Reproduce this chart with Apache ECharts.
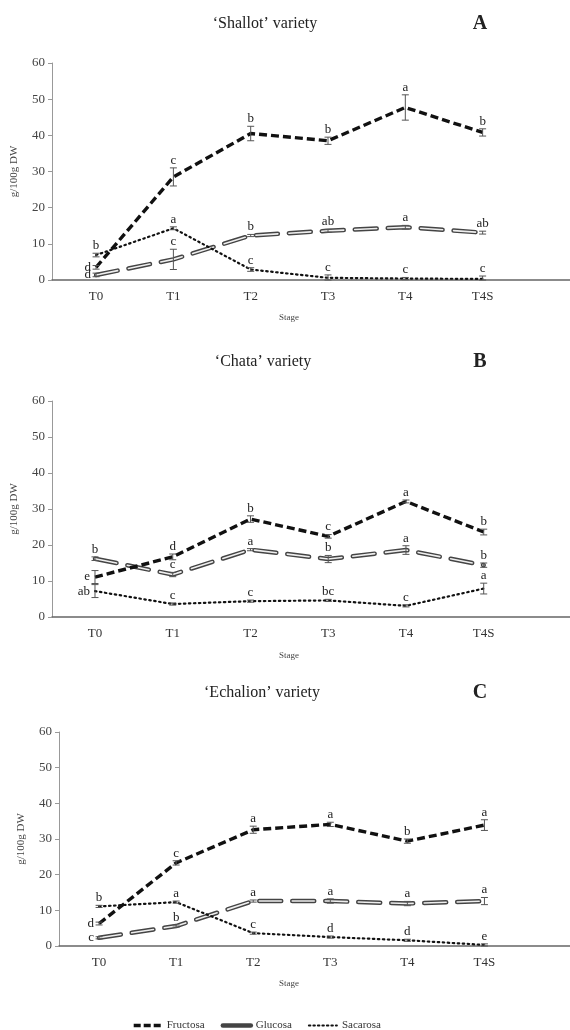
<!DOCTYPE html>
<html>
<head>
<meta charset="utf-8">
<script src="https://cdn.jsdelivr.net/npm/echarts@6/dist/echarts.min.js"></script>
<style>
html, body { margin: 0; padding: 0; background: #fff; }
#chart { width: 570px; height: 1030px; }
</style>
</head>
<body>
<div id="chart"></div>
<script>
const stages = ['T0', 'T1', 'T2', 'T3', 'T4', 'T4S'];
const yTicks = [0, 10, 20, 30, 40, 50, 60];

// 'Shallot' variety (A)
const shallotFru = [3.5, 28.5, 40.5, 38.5, 47.7, 40.8];
const shallotFruErr = [0.5, 2.5, 2.0, 1.0, 3.5, 1.0];
const shallotFruLetters = ['d', 'c', 'b', 'b', 'a', 'b'];
const shallotGlu = [1.4, 5.7, 12.3, 13.6, 14.6, 13.1];
const shallotGluErr = [0.5, 2.8, 0.3, 0.4, 0.5, 0.4];
const shallotGluLetters = ['d', 'c', 'b', 'ab', 'a', 'ab'];
const shallotSac = [6.9, 14.3, 2.9, 0.6, 0.4, 0.3];
const shallotSacErr = [0.5, 0.4, 0.5, 0.8, 0.3, 0.8];
const shallotSacLetters = ['b', 'a', 'c', 'c', 'c', 'c'];

// 'Chata' variety (B)
const chataFru = [11.1, 16.7, 27.2, 22.4, 32.1, 23.6];
const chataFruErr = [1.8, 0.8, 0.9, 0.5, 0.4, 0.8];
const chataFruLetters = ['e', 'd', 'b', 'c', 'a', 'b'];
const chataGlu = [16.2, 11.8, 18.7, 16.1, 18.6, 14.4];
const chataGluErr = [0.5, 0.6, 0.3, 1.0, 1.2, 0.6];
const chataGluLetters = ['b', 'c', 'a', 'b', 'a', 'b'];
const chataSac = [7.2, 3.6, 4.4, 4.6, 3.1, 7.9];
const chataSacErr = [1.8, 0.3, 0.3, 0.3, 0.3, 1.5];
const chataSacLetters = ['ab', 'c', 'c', 'bc', 'c', 'a'];

// 'Echalion' variety (C)
const echalionFru = [6.3, 23.3, 32.6, 34.1, 29.4, 33.9];
const echalionFruErr = [0.4, 0.6, 1.0, 0.6, 0.6, 1.5];
const echalionFruLetters = ['d', 'c', 'a', 'a', 'b', 'a'];
const echalionGlu = [2.3, 5.6, 12.6, 12.6, 11.9, 12.6];
const echalionGluErr = [0.3, 0.3, 0.3, 0.6, 0.6, 1.0];
const echalionGluLetters = ['c', 'b', 'a', 'a', 'a', 'a'];
const echalionSac = [11.1, 12.3, 3.6, 2.5, 1.6, 0.3];
const echalionSacErr = [0.3, 0.3, 0.3, 0.3, 0.3, 0.3];
const echalionSacLetters = ['b', 'a', 'c', 'd', 'd', 'e'];

// where each letter goes: 'l' = left of the point, 't' = above the error bar
const placeFirstLeft = ['l', 't', 't', 't', 't', 't'];
const placeAllTop = ['t', 't', 't', 't', 't', 't'];

const FONT = '"Liberation Serif", "DejaVu Serif", serif';

const panels = [
  { title: '\u2018Shallot\u2019 variety', tag: 'A', grid: { left: 52, right: 0, top: 63, height: 217 }, xMin: -0.57, xMax: 6.13,
    titleY: 24, stageY: 318, titleX: 265,
    fru: [shallotFru, shallotFruErr, shallotFruLetters, placeFirstLeft],
    glu: [shallotGlu, shallotGluErr, shallotGluLetters, placeFirstLeft],
    sac: [shallotSac, shallotSacErr, shallotSacLetters, placeAllTop] },
  { title: '\u2018Chata\u2019 variety', tag: 'B', grid: { left: 52, right: 0, top: 401, height: 216 }, xMin: -0.553, xMax: 6.11,
    titleY: 362, stageY: 656, titleX: 263,
    fru: [chataFru, chataFruErr, chataFruLetters, placeFirstLeft],
    glu: [chataGlu, chataGluErr, chataGluLetters, placeAllTop],
    sac: [chataSac, chataSacErr, chataSacLetters, placeFirstLeft] },
  { title: '\u2018Echalion\u2019 variety', tag: 'C', grid: { left: 59, right: 0, top: 732, height: 214 }, xMin: -0.52, xMax: 6.11,
    titleY: 693, stageY: 984, titleX: 262,
    fru: [echalionFru, echalionFruErr, echalionFruLetters, placeFirstLeft],
    glu: [echalionGlu, echalionGluErr, echalionGluLetters, placeFirstLeft],
    sac: [echalionSac, echalionSacErr, echalionSacLetters, placeAllTop] }
];

const fruStyle = { color: '#111', width: 3.4, type: [8, 4] };
const gluOuter = { color: '#444', width: 4.5, type: [22, 11], cap: 'round' };
const gluInner = { color: '#eee', width: 1.6, type: [22, 11], cap: 'round' };
const sacStyle = { color: '#111', width: 2.2, type: [1.5, 3.5], cap: 'round' };

function lineSeries(g, name, values, style, z) {
  return {
    type: 'line', name: name, xAxisIndex: g, yAxisIndex: g,
    data: values.map((v, i) => [i, v]),
    symbol: 'none', lineStyle: style, itemStyle: { color: style.color }, z: z, silent: true
  };
}

function barsAndLetters(g, spec) {
  const [means, errs, letters, places] = spec;
  return {
    type: 'custom', xAxisIndex: g, yAxisIndex: g, z: 6, silent: true,
    data: means.map((m, i) => [i, m, errs[i]]),
    renderItem(params, api) {
      const i = api.value(0), m = api.value(1), e = api.value(2);
      const top = api.coord([i, m + e]);
      const bot = api.coord([i, Math.max(m - e, 0)]);
      const pt = api.coord([i, m]);
      const st = { stroke: '#555', lineWidth: 1 };
      const cap = 3.5;
      const children = [
        { type: 'line', shape: { x1: top[0], y1: top[1], x2: bot[0], y2: bot[1] }, style: st },
        { type: 'line', shape: { x1: top[0] - cap, y1: top[1], x2: top[0] + cap, y2: top[1] }, style: st },
        { type: 'line', shape: { x1: bot[0] - cap, y1: bot[1], x2: bot[0] + cap, y2: bot[1] }, style: st }
      ];
      const txt = letters[params.dataIndex];
      if (places[params.dataIndex] === 'l') {
        children.push({ type: 'text', x: pt[0] - 5, y: pt[1],
          style: { text: txt, align: 'right', verticalAlign: 'middle', font: '13px ' + FONT, fill: '#222' } });
      } else {
        children.push({ type: 'text', x: top[0], y: top[1] - 1,
          style: { text: txt, align: 'center', verticalAlign: 'bottom', font: '13px ' + FONT, fill: '#222' } });
      }
      return { type: 'group', children: children };
    }
  };
}

const grids = [], xAxes = [], yAxes = [], series = [], texts = [];
panels.forEach((p, g) => {
  grids.push(p.grid);
  xAxes.push({
    type: 'value', gridIndex: g, min: p.xMin, max: p.xMax,
    axisLine: { show: true, onZero: false, lineStyle: { color: '#666', width: 1.5 } },
    axisTick: { show: false }, splitLine: { show: false },
    axisLabel: { customValues: [0, 1, 2, 3, 4, 5], formatter: v => stages[Math.round(v)],
      fontFamily: FONT, fontSize: 13, color: '#333', margin: 10 }
  });
  yAxes.push({
    type: 'value', gridIndex: g, min: yTicks[0], max: yTicks[yTicks.length - 1], interval: 10,
    name: 'g/100g DW', nameLocation: 'middle', nameGap: 32, nameRotate: 90,
    nameTextStyle: { fontFamily: FONT, fontSize: 11, color: '#444' },
    axisLine: { show: true, onZero: false, lineStyle: { color: '#999' } },
    axisTick: { show: true, length: 4, lineStyle: { color: '#999' } },
    splitLine: { show: false },
    axisLabel: { fontFamily: FONT, fontSize: 13, color: '#444', margin: 7 }
  });
  series.push(lineSeries(g, 'Glucosa', p.glu[0], gluOuter, 2));
  series.push(lineSeries(g, 'Glucosa-inner', p.glu[0], gluInner, 3));
  series.push(lineSeries(g, 'Fructosa', p.fru[0], fruStyle, 4));
  series.push(lineSeries(g, 'Sacarosa', p.sac[0], sacStyle, 4));
  series.push(barsAndLetters(g, p.fru));
  series.push(barsAndLetters(g, p.glu));
  series.push(barsAndLetters(g, p.sac));
  texts.push({ type: 'text', x: p.titleX, y: p.titleY,
    style: { text: p.title, font: '16px ' + FONT, fill: '#222', align: 'center', verticalAlign: 'middle' } });
  texts.push({ type: 'text', x: 480, y: p.titleY,
    style: { text: p.tag, font: 'bold 20px ' + FONT, fill: '#222', align: 'center', verticalAlign: 'middle' } });
  texts.push({ type: 'text', x: 289, y: p.stageY,
    style: { text: 'Stage', font: '9px ' + FONT, fill: '#444', align: 'center', verticalAlign: 'middle' } });
});

const chart = echarts.init(document.getElementById('chart'));
chart.setOption({
  animation: false,
  grid: grids,
  xAxis: xAxes,
  yAxis: yAxes,
  series: series,
  graphic: texts,
  legend: {
    data: [
      { name: 'Fructosa', lineStyle: { width: 3.4, type: [7, 3] } },
      { name: 'Glucosa', lineStyle: { width: 4.5, type: 'solid' } },
      { name: 'Sacarosa', lineStyle: { width: 2, type: [1.5, 3] } }
    ],
    left: 127, top: 1015, itemWidth: 28, itemHeight: 12, itemGap: 16,
    itemStyle: { opacity: 0 },
    textStyle: { fontFamily: FONT, fontSize: 11, color: '#333' },
    selectedMode: false
  }
});
</script>
</body>
</html>
